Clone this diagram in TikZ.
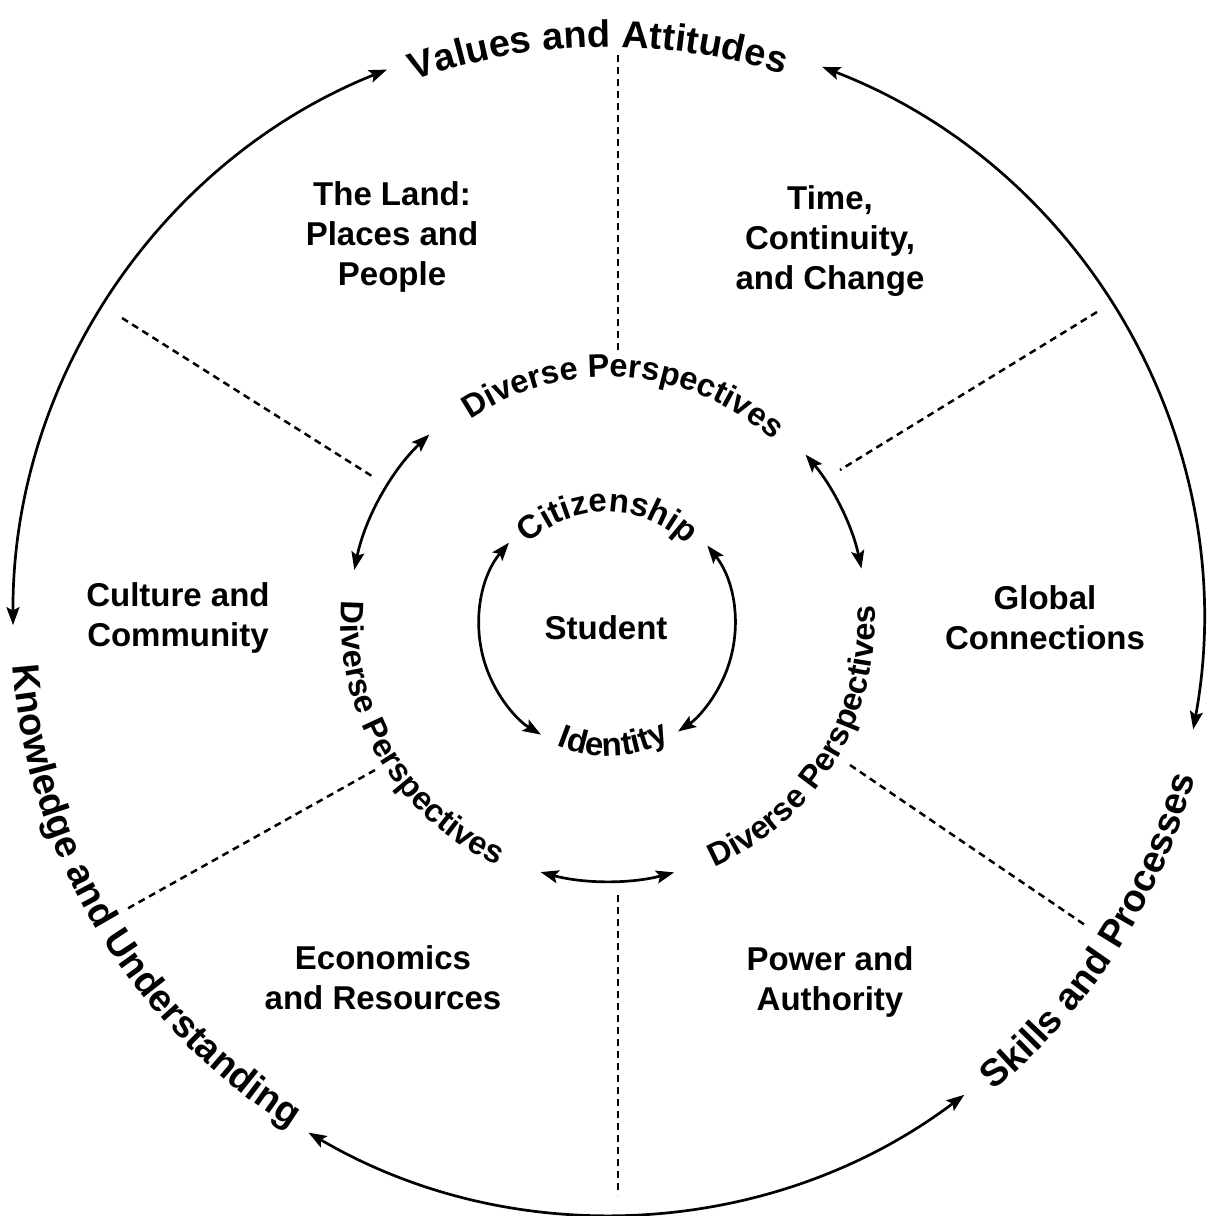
\documentclass[tikz,border=0pt]{standalone}
\usepackage{fontspec}
\setmainfont{Liberation Sans}
\usetikzlibrary{decorations.text,arrows.meta,calc}
\newcommand\lblfont{\fontsize{33}{40}\selectfont\bfseries}
\newcommand\outfont{\fontsize{38}{44}\selectfont\bfseries}
\newcommand\midfont{\fontsize{32.5}{36}\selectfont\bfseries}
\newcommand\innfont{\fontsize{33}{36}\selectfont\bfseries}
\begin{document}
\begin{tikzpicture}[x=1pt,y=1pt,
  lbl/.style={font=\lblfont, align=center, inner sep=0pt},
  arr/.style={line width=2.7pt, {Stealth[length=18pt,width=13pt,inset=3.5pt]}-{Stealth[length=18pt,width=13pt,inset=3.5pt]}},
  sep/.style={line width=2.5pt, dash pattern=on 7pt off 5pt},
  curved/.style={decorate, decoration={text along path, text align=center, text={#1}}}
]
\useasboundingbox (0,0) rectangle (1209,-1216);
\coordinate (O) at (608,-622);

% dashed separators
\coordinate (d1a) at (618,-55);   \coordinate (d1b) at (618,-352);
\coordinate (d2a) at (618,-895);  \coordinate (d2b) at (618,-1195);
\coordinate (d3a) at (122,-318);  \coordinate (d3b) at (375,-478);
\coordinate (d4a) at (1097,-312); \coordinate (d4b) at (840,-470);
\coordinate (d5a) at (375,-770);  \coordinate (d5b) at (125,-910);
\coordinate (d6a) at (850,-765);  \coordinate (d6b) at (1085,-925);
\draw[sep] (d1a) -- (d1b);
\draw[sep] (d2a) -- (d2b);
\draw[sep] (d3a) -- (d3b);
\draw[sep] (d4a) -- (d4b);
\draw[sep] (d5a) -- (d5b);
\draw[sep] (d6a) -- (d6b);

% outer arrows
\coordinate (oa1) at ($(O)+(111.8:595)$);
\coordinate (oa2) at ($(O)+(68.9:595)$);
\coordinate (oa3) at ($(O)+(239.6:592)$);
\draw[arr] (oa1) arc[start angle=111.8, end angle=180.3, radius=595];
\draw[arr] (oa2) arc[start angle=68.9, end angle=-10.4, radius=595];
\draw[arr] (oa3) arc[start angle=239.6, end angle=307, radius=592];

% middle arrows
\coordinate (ma1) at ($(O)+(133.6:259)$);
\coordinate (ma2) at ($(O)+(40.3:259)$);
\coordinate (ma3) at ($(O)+(254.9:259)$);
\draw[arr] (ma1) arc[start angle=133.6, end angle=168.4, radius=259];
\draw[arr] (ma2) arc[start angle=40.3, end angle=11.9, radius=259];
\draw[arr] (ma3) arc[start angle=254.9, end angle=284.8, radius=259];

% inner arrows
\coordinate (I) at (607,-625);
\coordinate (ia1) at ($(I)+(140:128)$);
\coordinate (ia2) at ($(I)+(38.4:128)$);
\draw[arr] (ia1) arc[start angle=140, end angle=238.9, radius=128];
\draw[arr] (ia2) arc[start angle=38.4, end angle=-56.3, radius=128];

% curved labels
\path[curved={|\outfont|Values and Attitudes}] ($(O)+(131:575)$) arc[start angle=131, end angle=51, radius=575];
\path[curved={|\outfont|Knowledge and Understanding}] ($(O)+(171:597)$) arc[start angle=171, end angle=251, radius=597];
\path[curved={|\outfont|Skills and Processes}] ($(O)+(-72.7:607)$) arc[start angle=-72.7, end angle=7.3, radius=607];

\path[curved={|\midfont|Diverse Perspectives}] ($(O)+(136:245)$) arc[start angle=136, end angle=36, radius=245];
\path[curved={|\midfont|Diverse Perspectives}] ($(O)+(160.5:267)$) arc[start angle=160.5, end angle=260.5, radius=267];
\path[curved={|\midfont|Diverse Perspectives}] ($(O)+(-81.5:267)$) arc[start angle=-81.5, end angle=18.5, radius=267];

\path[curved={|\innfont|Citizenship}] ($(I)+(149.5:113)$) arc[start angle=149.5, end angle=29.5, radius=113];
\path[curved={|\innfont|Identity}] ($(I)+(-147:131)$) arc[start angle=-147, end angle=-27, radius=131];

% straight labels
\node[lbl] (land) at (392,-237) {The Land:\\Places and\\People};
\node[lbl] (time) at (830,-241) {Time,\\Continuity,\\and Change};
\node[lbl] (culture) at (178,-618) {Culture and\\Community};
\node[lbl] (global) at (1045,-618) {Global\\Connections};
\node[lbl] (student) at (606,-628) {Student};
\node[lbl] (econ) at (383,-978) {Economics\\and Resources};
\node[lbl] (power) at (830,-982) {Power and\\Authority};
\end{tikzpicture}
\end{document}
